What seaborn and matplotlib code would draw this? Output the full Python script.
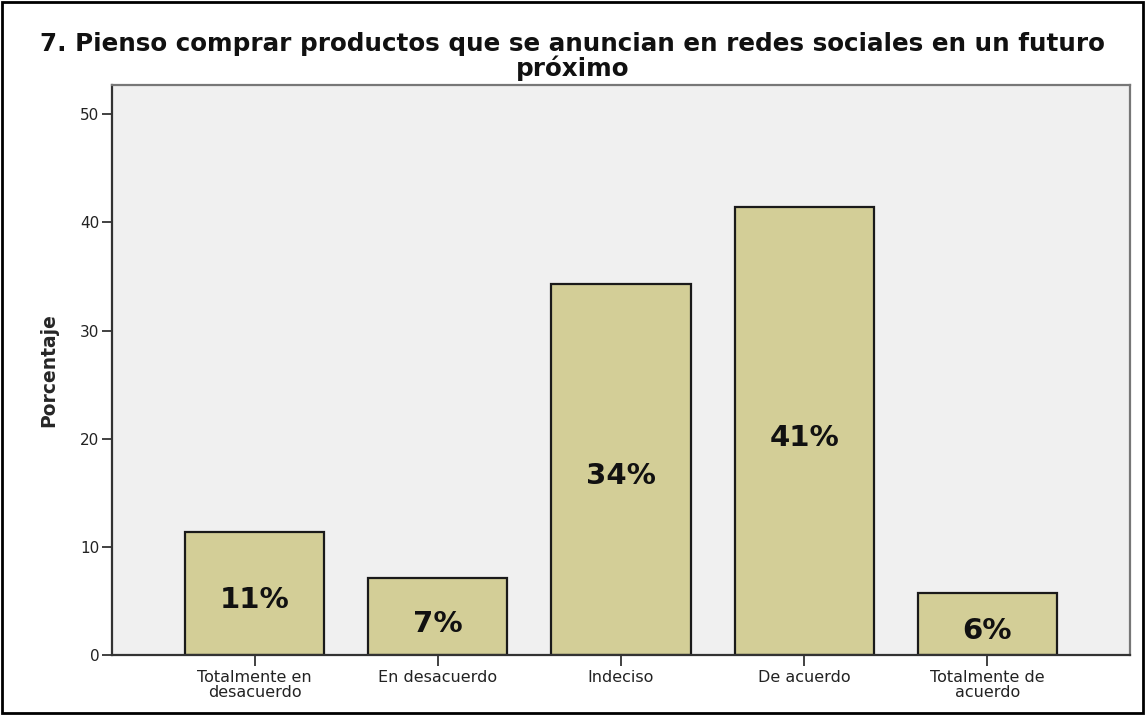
import matplotlib
matplotlib.use("Agg")
import matplotlib.pyplot as plt
import seaborn as sns
import pandas as pd
from matplotlib.patches import Rectangle

categories = ["Totalmente en\ndesacuerdo", "En desacuerdo", "Indeciso", "De acuerdo", "Totalmente de\nacuerdo"]
values = [11.4, 7.1, 34.3, 41.4, 5.7]
labels = ["11%", "7%", "34%", "41%", "6%"]
title = "7. Pienso comprar productos que se anuncian en redes sociales en un futuro\npróximo"

sns.set_style("white")
plt.rcParams['font.family'] = ['DejaVu Sans']

fig = plt.figure(figsize=(11.45, 7.15), dpi=100)
ax = fig.add_axes([112/1145, 1-655/715, (1130-112)/1145, (655-85)/715])
ax.set_facecolor("#f0f0f0")

df = pd.DataFrame({"cat": categories, "val": values})
sns.barplot(data=df, x="cat", y="val", ax=ax, color="#d3ce97", saturation=1,
            width=0.76, edgecolor="#1a1a1a", linewidth=1.6)

for i, (v, t) in enumerate(zip(values, labels)):
    ax.annotate(t, xy=(i, v/2), xytext=(0, -5), textcoords="offset points",
                ha="center", va="center", fontsize=21, fontweight="bold", color="#111111")

ax.set_xlim(-0.778, 4.778)
ax.set_ylim(0, 52.7)
ax.set_yticks([0, 10, 20, 30, 40, 50])
ax.set_xlabel("")
ax.set_ylabel("Porcentaje", fontsize=13.5, fontweight="bold", labelpad=16)
ax.tick_params(axis="y", direction="out", length=7, width=1.3, color="#333333",
               labelsize=11, pad=2, left=True, labelcolor="#222222")
ax.tick_params(axis="x", direction="out", length=8, width=1.3, color="#333333",
               labelsize=11.5, pad=3, bottom=True, labelcolor="#222222")
for lbl in ax.get_xticklabels():
    lbl.set_linespacing(1.0)

for s in ["left", "bottom"]:
    ax.spines[s].set_color("#333333")
    ax.spines[s].set_linewidth(1.6)
for s in ["top", "right"]:
    ax.spines[s].set_color("#777777")
    ax.spines[s].set_linewidth(1.6)

fig.text(0.5, 1-44/715, title.split("\n")[0], ha="center", va="center",
         fontsize=17.7, fontweight="bold", color="#111111")
fig.text(0.5, 1-68/715, title.split("\n")[1], ha="center", va="center",
         fontsize=17.7, fontweight="bold", color="#111111")

fig.patches.append(Rectangle((2/1145, 2/715), 1-4/1145, 1-4/715, transform=fig.transFigure,
                             fill=False, edgecolor="black", linewidth=2, zorder=10))

fig.savefig("out.png", dpi=100, facecolor="white")
